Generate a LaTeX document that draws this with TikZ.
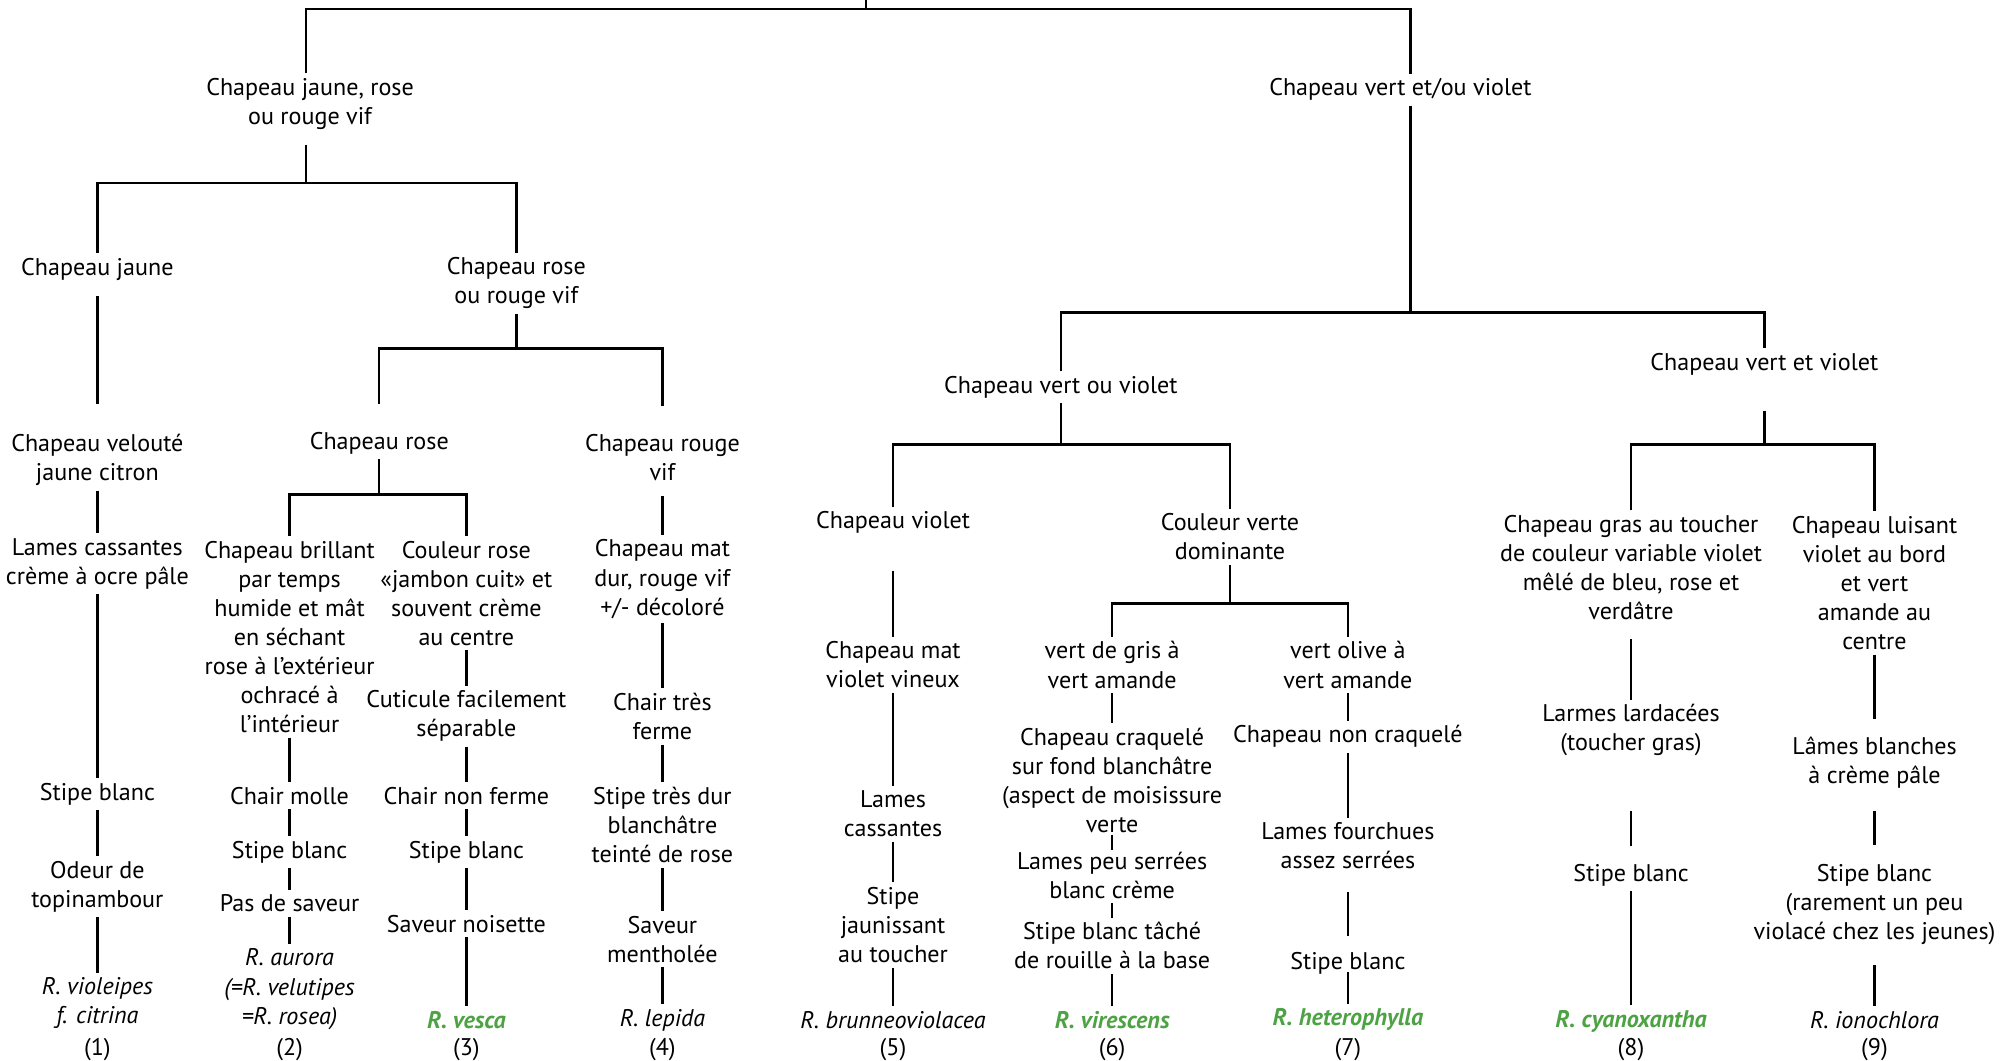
\documentclass[tikz,border=0pt]{standalone}
\usepackage{fontspec}
\setmainfont{PT Sans}
\usetikzlibrary{calc}
\definecolor{vertsp}{RGB}{77,163,68}
\tikzset{
  txt/.style={align=center, inner sep=2pt, yshift=-0.04cm, font=\fontsize{10.7}{12.9}\selectfont},
  esp/.style={txt, font=\fontsize{10.7}{12.9}\selectfont\itshape},
  espv/.style={txt, text=vertsp, font=\fontsize{10.7}{12.9}\selectfont\bfseries\itshape},
  link/.style={draw, line width=1.1pt}
}
\begin{document}
\begin{tikzpicture}[x=0.02cm, y=-0.02cm]
  \useasboundingbox (0,0) rectangle (1568,828);
  % Points de branchement
  \coordinate (root) at (676,0);
  \coordinate (top) at (676,7);
  \coordinate (bA) at (239,143);
  \coordinate (bB) at (403,272);
  \coordinate (bC) at (296,386);
  \coordinate (bD) at (1101,244);
  \coordinate (bE) at (828,347);
  \coordinate (bF) at (960,471);
  \coordinate (bG) at (1377,347);

  % Chapeau jaune, rose ou rouge
  \node[txt] (jrr) at (242,79) {Chapeau jaune, rose\\ou rouge vif};
  \node[txt] (jau) at (76,208) {Chapeau jaune};
  \node[txt] (rrv) at (403,219) {Chapeau rose\\ou rouge vif};
  \node[txt] (ros) at (296,344) {Chapeau rose};
  \node[txt] (rvif) at (517,355) {Chapeau rouge\\vif};

  % Colonne 1
  \node[txt] (vel) at (76,357) {Chapeau velouté\\jaune citron};
  \node[txt] (lam1) at (76,438) {Lames cassantes\\crème à ocre pâle};
  \node[txt] (sti1) at (76,618) {Stipe blanc};
  \node[txt] (ode) at (76,690) {Odeur de\\topinambour};
  \node[esp] (sp1) at (76,781) {R. violeipes\\f. citrina};
  \node[txt] (n1) at (76,817) {(1)};

  % Colonne 2
  \node[txt] (bri) at (226,495) {Chapeau brillant\\par temps\\humide et mât\\en séchant\\rose à l’extérieur\\ochracé à\\l’intérieur};
  \node[txt] (mol) at (226,619) {Chair molle};
  \node[txt] (sti2) at (226,663) {Stipe blanc};
  \node[txt] (sav2) at (226,703) {Pas de saveur};
  \node[esp] (sp2) at (226,770) {R. aurora\\(=R. velutipes\\=R. rosea)};
  \node[txt] (n2) at (226,817) {(2)};

  % Colonne 3
  \node[txt] (jam) at (364,461) {Couleur rose\\«jambon cuit» et\\souvent crème\\au centre};
  \node[txt] (cut) at (364,557) {Cuticule facilement\\séparable};
  \node[txt] (nonf) at (364,619) {Chair non ferme};
  \node[txt] (sti3) at (364,663) {Stipe blanc};
  \node[txt] (noi) at (364,719) {Saveur noisette};
  \node[espv] (sp3) at (364,794) {R. vesca};
  \node[txt] (n3) at (364,817) {(3)};

  % Colonne 4
  \node[txt] (mat) at (517,450) {Chapeau mat\\dur, rouge vif\\+/- décoloré};
  \node[txt] (fer) at (517,557) {Chair très\\ferme};
  \node[txt] (dur) at (517,642) {Stipe très dur\\blanchâtre\\teinté de rose};
  \node[txt] (men) at (517,731) {Saveur\\mentholée};
  \node[esp] (sp4) at (517,794) {R. lepida};
  \node[txt] (n4) at (517,817) {(4)};

  % Chapeau vert et/ou violet
  \node[txt] (vou) at (1093,68) {Chapeau vert et/ou violet};
  \node[txt] (vov) at (828,300) {Chapeau vert ou violet};
  \node[txt] (vev) at (1377,282) {Chapeau vert et violet};
  \node[txt] (vio) at (697,406) {Chapeau violet};
  \node[txt] (dom) at (960,417) {Couleur verte\\dominante};

  % Colonne 5
  \node[txt] (vin) at (697,517) {Chapeau mat\\violet vineux};
  \node[txt] (lam5) at (697,633) {Lames\\cassantes};
  \node[txt] (jaun) at (697,720) {Stipe\\jaunissant\\au toucher};
  \node[esp] (sp5) at (697,794) {R. brunneoviolacea};
  \node[txt] (n5) at (697,817) {(5)};

  % Colonne 6
  \node[txt] (gris) at (868,517) {vert de gris à\\vert amande};
  \node[txt] (craq) at (868,607) {Chapeau craquelé\\sur fond blanchâtre\\(aspect de moisissure\\verte};
  \node[txt] (peu) at (868,681) {Lames peu serrées\\blanc crème};
  \node[txt] (rou) at (868,736) {Stipe blanc tâché\\de rouille à la base};
  \node[espv] (sp6) at (868,794) {R. virescens};
  \node[txt] (n6) at (868,817) {(6)};

  % Colonne 7
  \node[txt] (oli) at (1052,517) {vert olive à\\vert amande};
  \node[txt] (ncr) at (1052,573) {Chapeau non craquelé};
  \node[txt] (fou) at (1052,658) {Lames fourchues\\assez serrées};
  \node[txt] (sti7) at (1052,750) {Stipe blanc};
  \node[espv] (sp7) at (1052,794) {R. heterophylla};
  \node[txt] (n7) at (1052,817) {(7)};

  % Colonne 8
  \node[txt] (gras) at (1273,441) {Chapeau gras au toucher\\de couleur variable violet\\mêlé de bleu, rose et\\verdâtre};
  \node[txt] (lar) at (1273,568) {Larmes lardacées\\(toucher gras)};
  \node[txt] (sti8) at (1273,681) {Stipe blanc};
  \node[espv] (sp8) at (1273,795) {R. cyanoxantha};
  \node[txt] (n8) at (1273,817) {(8)};

  % Colonne 9
  \node[txt] (lui) at (1463,453) {Chapeau luisant\\violet au bord\\et vert\\amande au\\centre};
  \node[txt] (bla) at (1463,593) {Lâmes blanches\\à crème pâle};
  \node[txt] (sti9) at (1463,704) {Stipe blanc\\(rarement un peu\\violacé chez les jeunes)};
  \node[esp] (sp9) at (1463,794) {R. ionochlora};
  \node[txt] (n9) at (1463,817) {(9)};

  % Branches
  \draw[link] (root) -- (top);
  \draw[link] (jrr.north -| bA) |- (top) -| (vou.north -| bD);
  \draw[link, shorten <=0.16cm] (jrr.south -| bA) -- (bA);
  \draw[link] (jau) |- (bA) -| (rrv);
  \draw[link] (rrv) -- (bB);
  \draw[link, shorten <=0.36cm, shorten >=0.36cm] (ros) |- (bB) -| (rvif);
  \draw[link] (ros) -- (bC);
  \draw[link] (bri) |- (bC) -| (jam);
  \draw[link] (vou.south -| bD) -- (bD);
  \draw[link] (vov) |- (bD) -| (vev);
  \draw[link] (vov) -- (bE);
  \draw[link] (vio) |- (bE) -| (dom);
  \draw[link] (dom) -- (bF);
  \draw[link] (gris) |- (bF) -| (oli);
  \draw[link, shorten <=0.48cm] (vev) -- (bG);
  \draw[link] (gras) |- (bG) -| (lui);

  % Colonnes
  \draw[link, shorten <=0.17cm, shorten >=0.4cm] (jau) -- (vel);
  \draw[link] (vel) -- (lam1);
  \draw[link] (lam1) -- (sti1);
  \draw[link] (sti1) -- (ode);
  \draw[link] (ode) -- (sp1);
  \draw[link] (bri) -- (mol);
  \draw[link] (mol) -- (sti2);
  \draw[link] (sti2) -- (sav2);
  \draw[link] (sav2) -- (sp2);
  \draw[link] (jam) -- (cut);
  \draw[link] (cut) -- (nonf);
  \draw[link] (nonf) -- (sti3);
  \draw[link] (sti3) -- (noi);
  \draw[link] (noi) -- (sp3);
  \draw[link, shorten <=0.16cm] (rvif) -- (mat);
  \draw[link] (mat) -- (fer);
  \draw[link] (fer) -- (dur);
  \draw[link] (dur) -- (men);
  \draw[link] (men) -- (sp4);
  \draw[link, shorten <=0.5cm] (vio) -- (vin);
  \draw[link] (vin) -- (lam5);
  \draw[link] (lam5) -- (jaun);
  \draw[link] (jaun) -- (sp5);
  \draw[link] (gris) -- (craq);
  \draw[link] ($(craq.south)!.5!(peu.north)$) ++(0,-6) -- ++(0,12);
  \draw[link] ($(peu.south)!.5!(rou.north)$) ++(0,-6) -- ++(0,12);
  \draw[link] (rou) -- (sp6);
  \draw[link] (oli) -- (ncr);
  \draw[link] (ncr) -- (fou);
  \draw[link, shorten <=0.28cm, shorten >=0.18cm] (fou) -- (sti7);
  \draw[link, shorten <=-0.12cm] (sti7) -- (sp7);
  \draw[link, shorten <=0.22cm] (gras) -- (lar);
  \draw[link, shorten <=0.78cm, shorten >=0.2cm] (lar) -- (sti8);
  \draw[link] (sti8) -- (sp8);
  \draw[link, shorten >=0.2cm] (lui) -- (bla);
  \draw[link, shorten <=0.28cm, shorten >=0.22cm] (bla) -- (sti9);
  \draw[link, shorten <=0.24cm] (sti9) -- (sp9);
\end{tikzpicture}
\end{document}
